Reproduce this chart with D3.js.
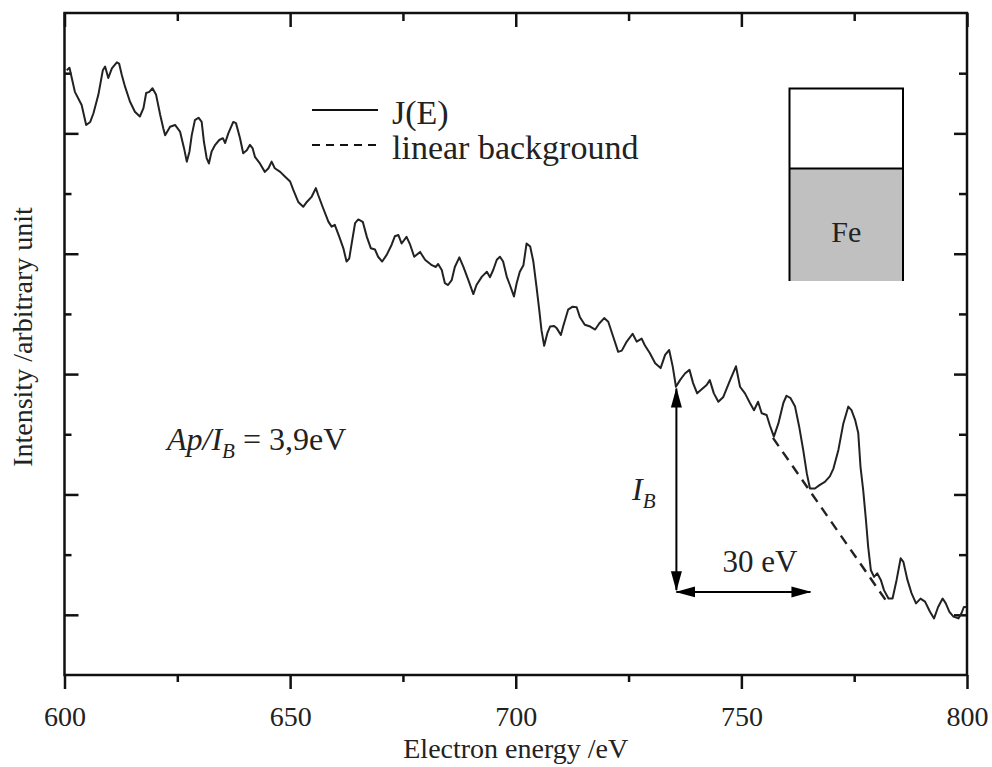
<!DOCTYPE html>
<html><head><meta charset="utf-8">
<script src="https://cdn.jsdelivr.net/npm/d3@7/dist/d3.min.js"></script>
<style>
body{margin:0;background:#fff}
svg{display:block}
text{font-family:"Liberation Serif","Times New Roman",serif;fill:#222}
</style>
</head><body>
<svg id="c" width="992" height="767"></svg>
<script>
// ---- data ----
const energy = [600.5,601.1,602.3,603.8,604.8,605.7,606.4,607.5,608.5,609.0,609.7,610.5,611.6,612.1,612.7,613.4,614.5,615.6,616.7,617.5,618.1,618.8,619.5,620.3,621.2,621.9,622.3,623.4,624.5,625.6,626.5,627.1,627.7,628.2,628.9,629.7,630.4,630.9,631.5,632.0,632.6,633.4,634.3,635.1,635.6,636.3,637.4,638.0,638.9,639.6,640.4,641.1,641.7,642.2,643.3,644.4,645.2,645.9,646.6,647.8,648.9,650.0,650.7,651.8,652.9,653.7,654.8,655.7,656.2,657.3,658.5,659.2,659.9,660.9,661.8,662.5,663.1,663.6,664.4,665.1,666.1,667.0,667.9,668.8,669.5,670.4,671.4,672.5,673.2,674.0,674.7,675.8,676.6,677.5,678.8,679.9,681.4,682.3,682.8,683.6,684.3,685.0,685.8,686.5,687.5,688.4,689.5,690.6,691.3,692.5,693.6,694.3,695.0,695.8,696.5,697.2,698.0,698.7,699.6,700.2,700.9,701.7,702.4,703.2,703.9,704.6,705.2,705.7,706.3,707.0,707.6,708.5,709.1,710.0,710.5,711.6,712.6,713.5,714.2,715.3,716.5,717.6,718.5,719.6,720.5,721.6,722.7,723.5,724.6,725.9,726.8,727.9,728.6,729.7,730.9,732.1,733.1,734.0,734.8,735.5,736.4,737.5,738.5,739.3,740.2,741.4,742.3,743.0,743.9,744.9,746.0,747.5,748.8,749.7,750.8,751.9,752.8,753.7,754.5,755.6,756.3,757.2,758.2,759.3,760.0,760.9,761.9,762.8,763.7,764.5,765.2,766.3,767.4,768.5,769.6,770.4,771.5,772.6,773.7,774.4,775.2,775.9,776.4,777.0,777.6,778.1,778.7,779.4,780.1,780.9,781.6,782.6,783.5,784.4,785.3,785.9,786.8,787.7,788.7,789.7,790.7,791.8,792.7,793.6,794.6,795.3,796.1,797.0,798.1,798.8,799.3,799.8];
const intensity = [10.05,10.09,9.69,9.47,9.14,9.19,9.33,9.64,10.05,10.11,9.92,10.08,10.18,10.16,9.97,9.78,9.53,9.36,9.28,9.42,9.67,9.69,9.75,9.64,9.31,9.08,8.97,9.11,9.14,9.03,8.75,8.53,8.70,8.97,9.22,9.26,9.19,8.86,8.59,8.50,8.70,8.81,8.89,8.92,8.84,9.00,9.19,9.17,8.92,8.67,8.72,8.81,8.75,8.61,8.50,8.36,8.42,8.53,8.42,8.36,8.28,8.20,8.06,7.86,7.78,7.86,7.95,8.09,7.98,7.76,7.53,7.45,7.48,7.28,7.09,6.87,6.92,7.15,7.51,7.57,7.53,7.28,7.09,7.07,6.95,6.87,6.98,7.15,7.29,7.31,7.17,7.28,7.15,6.95,7.03,6.90,6.81,6.78,6.83,6.73,6.51,6.48,6.56,6.78,6.94,6.78,6.56,6.33,6.48,6.62,6.70,6.61,6.73,6.90,6.95,6.87,6.62,6.48,6.29,6.51,6.70,6.81,7.17,7.12,6.87,6.45,6.07,5.73,5.47,5.68,5.79,5.80,5.76,5.65,5.79,6.07,6.12,6.11,5.95,5.82,5.79,5.74,5.84,5.93,5.87,5.62,5.37,5.39,5.54,5.67,5.54,5.59,5.48,5.35,5.18,5.10,5.32,5.40,5.12,4.79,4.90,5.01,5.07,4.85,4.68,4.76,4.82,4.90,4.68,4.54,4.62,4.90,5.13,4.79,4.68,4.52,4.40,4.54,4.35,4.32,4.15,3.96,4.18,4.52,4.64,4.60,4.46,4.13,3.74,3.35,3.10,3.10,3.16,3.21,3.30,3.43,3.74,4.18,4.46,4.40,4.24,4.02,3.46,3.07,2.58,2.13,1.74,1.63,1.69,1.58,1.41,1.27,1.27,1.58,1.94,1.88,1.58,1.36,1.19,1.27,1.22,1.05,0.94,1.13,1.27,1.19,1.05,0.97,0.94,1.03,1.13,1.13];
const bgEnergy = [757.0, 782.3];
const bgIntensity = [3.94, 1.21];
const xMajorTicks = [600, 650, 700, 750, 800];
const xMinorTicks = [625, 675, 725, 775];
const yMajorTicks = [1, 3, 5, 7, 9];
const yMinorTicks = [2, 4, 6, 8, 10];
const legendLabels = ["J(E)", "linear background"];
const ibArrowEnergy = 735.6, ibArrowFrom = 1.41, ibArrowTo = 4.76;
const widthArrowFrom = 735.6, widthArrowTo = 765.3, widthArrowLevel = 1.38;

// ---- chart ----
const svg = d3.select("#c");
const L = 64.5, R = 967, T = 13, B = 675;
const x = d3.scaleLinear().domain([600, 800]).range([L, R]);
const y = d3.scaleLinear().domain([0, 11]).range([B, T]);

const defs = svg.append("defs");
defs.append("marker").attr("id", "ah").attr("viewBox", "0 -6 20 12")
  .attr("refX", 19).attr("refY", 0).attr("markerUnits", "userSpaceOnUse")
  .attr("markerWidth", 20).attr("markerHeight", 12).attr("orient", "auto-start-reverse")
  .append("path").attr("d", "M0,-5.5L20,0L0,5.5Z").attr("fill", "#000");

function styleAxis(g, labels) {
  g.select(".domain").remove();
  g.selectAll(".tick line").attr("stroke", "#111").attr("stroke-width", 2.5);
  if (!labels) g.selectAll(".tick text").remove();
  else g.selectAll(".tick text").attr("font-size", 28).attr("fill", "#222")
    .attr("font-family", '"Liberation Serif", serif');
}

// bottom (outward ticks, labels)
svg.append("g").attr("transform", `translate(0,${B})`)
  .call(d3.axisBottom(x).tickValues(xMajorTicks).tickSize(14).tickPadding(17).tickFormat(d3.format("d")))
  .call(g => styleAxis(g, true));
svg.append("g").attr("transform", `translate(0,${B})`)
  .call(d3.axisBottom(x).tickValues(xMinorTicks).tickSize(7))
  .call(g => styleAxis(g, false));
// top (inward)
svg.append("g").attr("transform", `translate(0,${T})`)
  .call(d3.axisBottom(x).tickValues(xMajorTicks).tickSize(14))
  .call(g => styleAxis(g, false));
svg.append("g").attr("transform", `translate(0,${T})`)
  .call(d3.axisBottom(x).tickValues(xMinorTicks).tickSize(8))
  .call(g => styleAxis(g, false));
// left (inward)
svg.append("g").attr("transform", `translate(${L},0)`)
  .call(d3.axisRight(y).tickValues(yMajorTicks).tickSize(14))
  .call(g => styleAxis(g, false));
svg.append("g").attr("transform", `translate(${L},0)`)
  .call(d3.axisRight(y).tickValues(yMinorTicks).tickSize(7))
  .call(g => styleAxis(g, false));
// right (inward)
svg.append("g").attr("transform", `translate(${R},0)`)
  .call(d3.axisLeft(y).tickValues(yMajorTicks).tickSize(13))
  .call(g => styleAxis(g, false));
svg.append("g").attr("transform", `translate(${R},0)`)
  .call(d3.axisLeft(y).tickValues(yMinorTicks).tickSize(8))
  .call(g => styleAxis(g, false));

// frame
svg.append("rect").attr("x", L).attr("y", T).attr("width", R - L).attr("height", B - T)
  .attr("fill", "none").attr("stroke", "#111").attr("stroke-width", 2.5);

// axis titles
svg.append("text").attr("x", (L + R) / 2).attr("y", 758).attr("text-anchor", "middle")
  .attr("font-size", 28).text("Electron energy /eV");
svg.append("text").attr("transform", "translate(32,337) rotate(-90)").attr("text-anchor", "middle")
  .attr("font-size", 28).text("Intensity /arbitrary unit");

// curve
const pts = energy.map((e, i) => [e, intensity[i]]);
const line = d3.line().x(d => x(d[0])).y(d => y(d[1]));
svg.append("path").datum(pts).attr("d", line).attr("fill", "none")
  .attr("stroke", "#222").attr("stroke-width", 2).attr("stroke-linejoin", "round");

// linear background
const bg = bgEnergy.map((e, i) => [e, bgIntensity[i]]);
svg.append("path").datum(bg).attr("d", line).attr("fill", "none")
  .attr("stroke", "#222").attr("stroke-width", 2.4).attr("stroke-dasharray", "10,7");

// legend
const lg = svg.append("g");
lg.append("line").attr("x1", 312).attr("x2", 378).attr("y1", 110).attr("y2", 110)
  .attr("stroke", "#111").attr("stroke-width", 2);
lg.append("line").attr("x1", 312).attr("x2", 378).attr("y1", 145).attr("y2", 145)
  .attr("stroke", "#111").attr("stroke-width", 2).attr("stroke-dasharray", "8,6");
lg.append("text").attr("x", 392).attr("y", 124).attr("font-size", 34).text(legendLabels[0]);
lg.append("text").attr("x", 392).attr("y", 159).attr("font-size", 34).text(legendLabels[1]);

// inset box
const bx = 789.5, bw = 113.5, by = 88.5, bm = 168.5, bb = 281;
svg.append("rect").attr("x", bx).attr("y", bm).attr("width", bw).attr("height", bb - bm).attr("fill", "#c0c0c0");
svg.append("path").attr("d", `M${bx},${bb}V${by}H${bx + bw}V${bb}M${bx},${bm}H${bx + bw}`)
  .attr("fill", "none").attr("stroke", "#000").attr("stroke-width", 2);
svg.append("text").attr("x", bx + bw / 2).attr("y", 242).attr("text-anchor", "middle")
  .attr("font-size", 30).text("Fe");

// Ap/I_B annotation
const an = svg.append("text").attr("x", 167).attr("y", 450).attr("font-size", 32);
an.append("tspan").attr("font-style", "italic").text("Ap/I");
an.append("tspan").attr("font-style", "italic").attr("font-size", 21).attr("dy", 8).text("B");
an.append("tspan").attr("dy", -8).text(" = 3,9eV");

// arrows
svg.append("line").attr("x1", x(ibArrowEnergy)).attr("x2", x(ibArrowEnergy))
  .attr("y1", y(ibArrowFrom)).attr("y2", y(ibArrowTo))
  .attr("stroke", "#000").attr("stroke-width", 2)
  .attr("marker-start", "url(#ah)").attr("marker-end", "url(#ah)");
svg.append("line").attr("x1", x(widthArrowFrom)).attr("x2", x(widthArrowTo))
  .attr("y1", y(widthArrowLevel)).attr("y2", y(widthArrowLevel))
  .attr("stroke", "#000").attr("stroke-width", 2)
  .attr("marker-start", "url(#ah)").attr("marker-end", "url(#ah)");

const ib = svg.append("text").attr("x", 632).attr("y", 500).attr("font-size", 32).attr("font-style", "italic");
ib.append("tspan").text("I");
ib.append("tspan").attr("font-size", 21).attr("dy", 8).text("B");

svg.append("text").attr("x", 760).attr("y", 572).attr("text-anchor", "middle")
  .attr("font-size", 31).text("30 eV");
</script>
</body></html>
